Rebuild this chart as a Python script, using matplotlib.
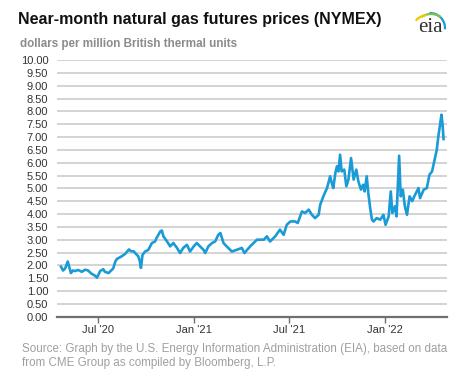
import matplotlib
matplotlib.use("Agg")
import matplotlib.pyplot as plt
from matplotlib.patches import Arc
import numpy as np
import pandas as pd

title = "Near-month natural gas futures prices (NYMEX)"
units = "dollars per million British thermal units"
source_lines = ["Source: Graph by the U.S. Energy Information Administration (EIA), based on data",
                "from CME Group as compiled by Bloomberg, L.P."]

dates = [
    "2020-04-21", "2020-04-25", "2020-04-29", "2020-05-04", "2020-05-10", "2020-05-14",
    "2020-05-18", "2020-05-24", "2020-05-31", "2020-06-06", "2020-06-12", "2020-06-18",
    "2020-06-25", "2020-06-29", "2020-07-05", "2020-07-11", "2020-07-14", "2020-07-21",
    "2020-07-27", "2020-07-30", "2020-08-03", "2020-08-06", "2020-08-15", "2020-08-22",
    "2020-08-29", "2020-09-02", "2020-09-07", "2020-09-10", "2020-09-16", "2020-09-19",
    "2020-09-21", "2020-09-24", "2020-09-29", "2020-10-05", "2020-10-12", "2020-10-18",
    "2020-10-21", "2020-10-28", "2020-10-31", "2020-11-03", "2020-11-10", "2020-11-16",
    "2020-11-22", "2020-11-29", "2020-12-05", "2020-12-11", "2020-12-18", "2020-12-24",
    "2020-12-31", "2021-01-06", "2021-01-12", "2021-01-19", "2021-01-22", "2021-01-28",
    "2021-02-04", "2021-02-10", "2021-02-16", "2021-02-20", "2021-02-26", "2021-03-04",
    "2021-03-14", "2021-03-24", "2021-04-02", "2021-04-07", "2021-04-18", "2021-05-01",
    "2021-05-14", "2021-05-20", "2021-05-26", "2021-06-05", "2021-06-14", "2021-06-21",
    "2021-06-27", "2021-07-04", "2021-07-13", "2021-07-18", "2021-07-26", "2021-08-01",
    "2021-08-08", "2021-08-14", "2021-08-20", "2021-08-27", "2021-08-30", "2021-09-05",
    "2021-09-12", "2021-09-18", "2021-09-21", "2021-09-24", "2021-09-28", "2021-10-01",
    "2021-10-04", "2021-10-07", "2021-10-10", "2021-10-15", "2021-10-19", "2021-10-23",
    "2021-10-28", "2021-11-02", "2021-11-07", "2021-11-11", "2021-11-16", "2021-11-20",
    "2021-11-23", "2021-11-27", "2021-11-30", "2021-12-04", "2021-12-07", "2021-12-10",
    "2021-12-16", "2021-12-23", "2021-12-29", "2022-01-02", "2022-01-08", "2022-01-12",
    "2022-01-15", "2022-01-20", "2022-01-23", "2022-01-28", "2022-01-31", "2022-02-04",
    "2022-02-08", "2022-02-12", "2022-02-17", "2022-02-22", "2022-02-26", "2022-03-06",
    "2022-03-09", "2022-03-16", "2022-03-22", "2022-03-27", "2022-04-01", "2022-04-06",
    "2022-04-10", "2022-04-13", "2022-04-17", "2022-04-19", "2022-04-21", "2022-04-23",
]
prices = [
    1.95, 1.80, 1.88, 2.15, 1.70, 1.80,
    1.78, 1.82, 1.75, 1.83, 1.80, 1.68,
    1.60, 1.52, 1.78, 1.85, 1.75, 1.70,
    1.82, 1.88, 2.15, 2.25, 2.35, 2.45,
    2.62, 2.55, 2.55, 2.48, 2.35, 2.15,
    1.90, 2.41, 2.54, 2.60, 2.87, 2.93,
    3.07, 3.32, 3.36, 3.13, 2.93, 2.74,
    2.87, 2.68, 2.48, 2.68, 2.80, 2.54,
    2.74, 2.87, 2.74, 2.60, 2.48, 2.74,
    2.87, 2.93, 3.19, 3.26, 2.87, 2.74,
    2.54, 2.61, 2.68, 2.48, 2.74, 3.00,
    3.00, 3.13, 2.93, 3.13, 3.39, 3.19,
    3.58, 3.71, 3.71, 3.65, 4.10, 4.04,
    4.17, 3.97, 3.84, 3.97, 4.36, 4.69,
    5.01, 5.47, 5.21, 5.01, 5.60, 5.86,
    5.66, 6.31, 5.66, 5.73, 5.08, 5.34,
    6.18, 5.34, 5.73, 5.27, 4.95, 5.14,
    4.88, 5.47, 4.82, 4.17, 3.78, 3.71,
    3.84, 3.78, 3.97, 3.58, 3.91, 4.88,
    4.04, 4.30, 3.91, 6.27, 4.69, 4.95,
    4.30, 3.97, 4.69, 4.50, 4.69, 5.01,
    4.62, 4.95, 5.01, 5.53, 5.66, 6.12,
    6.50, 7.02, 7.60, 7.87, 7.50, 6.92,
]
xtick_dates = ["2020-07-01", "2021-01-01", "2021-07-01", "2022-01-01"]
xtick_labels = ["Jul '20", "Jan '21", "Jul '21", "Jan '22"]
yticks = np.arange(0, 10.01, 0.5)

plt.rcParams['font.family'] = ['Liberation Sans', 'DejaVu Sans']

W, H = 477, 379
fig = plt.figure(figsize=(W/100, H/100), dpi=100)
ax = fig.add_axes([57.3/W, 1-316.7/H, (446.7-57.3)/W, (316.7-60)/H])

x = pd.to_datetime(dates)
ax.plot(x, prices, color="#1a9ad6", lw=1.9, solid_joinstyle="round", zorder=3)

ax.set_ylim(0, 10)
ax.set_yticks(yticks)
ax.set_yticklabels([f"{v:.2f}" for v in yticks], fontsize=8, color="#333333")
ax.set_xlim(pd.Timestamp("2020-04-14"), pd.Timestamp("2022-04-29"))
ax.set_xticks(pd.to_datetime(xtick_dates))
ax.set_xticklabels(xtick_labels, fontsize=8, color="#333333")

ax.grid(axis="y", color="#d0d0d0", lw=1.3)
ax.set_axisbelow(True)
for s in ["top", "right", "left"]:
    ax.spines[s].set_visible(False)
ax.spines["bottom"].set_color("#707070")
ax.spines["bottom"].set_linewidth(1.6)
ax.spines["bottom"].set_zorder(4)
ax.tick_params(axis="y", length=0, pad=6.5)
ax.tick_params(axis="x", length=4, width=1, color="#707070", pad=2)

fig.text(18/W, 1-24/H, title, fontsize=11.5, fontweight="bold", color="#111111",
         va="baseline", ha="left")
fig.text(20/W, 1-47/H, units, fontsize=8.4, fontweight="bold", color="#8c8c8c",
         va="baseline", ha="left")
fig.text(22/W, 1-352/H, source_lines[0], fontsize=8.4, color="#a0a0a0",
         va="baseline", ha="left")
fig.text(22/W, 1-366/H, source_lines[1], fontsize=8.4, color="#a0a0a0",
         va="baseline", ha="left")

# eia logo (pixel coordinates, y up)
lax = fig.add_axes([405/W, 1-40/H, 50/W, 35/H])
lax.set_xlim(405, 455)
lax.set_ylim(H-40, H-5)
lax.axis("off")
lax.text(430, H-32, "eia", family="Liberation Serif", fontsize=15, color="#333333",
         ha="center", va="baseline")
lax.add_patch(Arc((430, H-28), 30, 30, theta1=-5, theta2=92, color="#1a9ad6", lw=1.6))
lax.add_patch(Arc((431, H-31), 34, 34, theta1=55, theta2=125, color="#7cc242", lw=1.6))
lax.add_patch(Arc((428, H-31), 32, 32, theta1=95, theta2=140, color="#f2c500", lw=1.6))

fig.savefig("out.png", dpi=100, facecolor="white")
